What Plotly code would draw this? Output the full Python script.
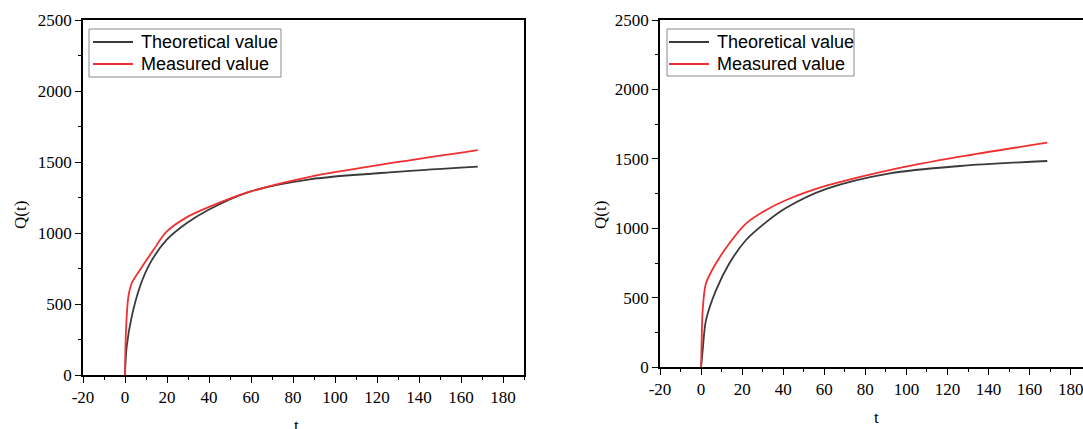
import plotly.graph_objects as go

# Left panel data
left_meas_t = [0, 0.5, 1.6, 3.2, 7.1, 13.5, 19.8, 29.3, 39.6, 59.5, 88, 131, 168]
left_meas_q = [0, 320, 551, 646, 739, 880, 1009, 1110, 1181, 1291, 1396, 1502, 1584]
left_theo_t = [0, 0.8, 3.2, 7.1, 11.9, 19.8, 29.3, 39.6, 59.5, 88, 131, 168]
left_theo_q = [0, 199, 411, 622, 786, 951, 1068, 1162, 1291, 1378, 1432, 1467]

# Right panel data
right_meas_t = [0, 0.3, 0.8, 2.4, 7.3, 13.8, 22, 31.7, 41.5, 61, 91.9, 126, 168.6]
right_meas_q = [0, 200, 412, 605, 749, 893, 1036, 1132, 1204, 1307, 1420, 1516, 1617]
right_theo_t = [0, 0.8, 2.4, 7.3, 13.8, 22, 31.7, 41.5, 61, 91.9, 126, 168.6]
right_theo_q = [0, 125, 340, 556, 749, 918, 1045, 1148, 1284, 1396, 1449, 1485]

series_names = ["Theoretical value", "Measured value"]
x_ticks = [-20, 0, 20, 40, 60, 80, 100, 120, 140, 160, 180]
y_ticks = [0, 500, 1000, 1500, 2000, 2500]

W, H = 1083, 429
BLACK = "#3a3a3a"
RED = "#f03030"
SERIF = "Liberation Serif, Times New Roman, serif"
SANS = "Liberation Sans, Arial, sans-serif"

fig = go.Figure()
for t, q, col, name, xa, ya in [
    (left_theo_t, left_theo_q, BLACK, series_names[0], "x", "y"),
    (left_meas_t, left_meas_q, RED, series_names[1], "x", "y"),
    (right_theo_t, right_theo_q, BLACK, series_names[0], "x2", "y2"),
    (right_meas_t, right_meas_q, RED, series_names[1], "x2", "y2"),
]:
    fig.add_trace(go.Scatter(x=t, y=q, mode="lines", name=name, showlegend=False,
                             line=dict(color=col, width=1.8, shape="spline", smoothing=0.9),
                             xaxis=xa, yaxis=ya))

tickfont = dict(family=SERIF, size=17, color="black")

def xax(domain, anchor, rng):
    return dict(domain=domain, anchor=anchor, range=rng, tickvals=x_ticks,
                ticktext=[str(v) for v in x_ticks], automargin=False,
                ticklabeloverflow="allow",
                showline=True, linecolor="black", linewidth=1.5, mirror=True,
                ticks="outside", ticklen=6, tickwidth=1.3, tickcolor="black",
                minor=dict(dtick=10, tick0=0, ticks="outside", ticklen=3, tickcolor="black", tickwidth=1),
                showgrid=False, zeroline=False, tickfont=tickfont)

def yax(domain, anchor, mirror):
    return dict(domain=domain, anchor=anchor, range=[0, 2500], tickvals=y_ticks,
                ticktext=[str(v) for v in y_ticks], automargin=False,
                ticklabeloverflow="allow",
                showline=True, linecolor="black", linewidth=1.5, mirror=mirror,
                ticks="outside", ticklen=6, tickwidth=1.3, tickcolor="black",
                minor=dict(dtick=250, tick0=0, ticks="outside", ticklen=3, tickcolor="black", tickwidth=1),
                showgrid=False, zeroline=False, tickfont=tickfont)

ly0, ly1 = (H - 375) / H, (H - 20) / H
ry0, ry1 = (H - 367.3) / H, (H - 20) / H

def px(x):
    return x / W

def py(y):
    return (H - y) / H

shapes = []
annotations = []

# Manual legends (box, line samples, labels)
for (bx0, bx1, by0, by1, lx0, lx1, tx) in [(89, 281, 29, 77, 93, 133, 139),
                                            (667, 854, 29, 76, 669, 709, 715)]:
    shapes.append(dict(type="rect", xref="paper", yref="paper", x0=px(bx0), x1=px(bx1),
                       y0=py(by1), y1=py(by0), line=dict(color="#8a8a8a", width=1)))
    for row_y, col, name in [(42, BLACK, series_names[0]), (64, RED, series_names[1])]:
        shapes.append(dict(type="line", xref="paper", yref="paper", x0=px(lx0), x1=px(lx1),
                           y0=py(row_y), y1=py(row_y), line=dict(color=col, width=1.8)))
        annotations.append(dict(text=name, x=px(tx), y=py(row_y), xref="paper", yref="paper",
                                xanchor="left", yanchor="middle", showarrow=False,
                                font=dict(family=SANS, size=18, color="black")))

titlefont = dict(family=SERIF, size=17, color="black")
annotations += [
    dict(text="Q(t)", x=px(20), y=py(215), xref="paper", yref="paper", xanchor="center",
         yanchor="middle", textangle=-90, showarrow=False, font=titlefont),
    dict(text="Q(t)", x=px(600), y=py(215), xref="paper", yref="paper", xanchor="center",
         yanchor="middle", textangle=-90, showarrow=False, font=titlefont),
    dict(text="t", x=px(296), y=py(425), xref="paper", yref="paper", xanchor="center",
         yanchor="middle", showarrow=False, font=titlefont),
    dict(text="t", x=px(876), y=py(417), xref="paper", yref="paper", xanchor="center",
         yanchor="middle", showarrow=False, font=titlefont),
]

fig.update_layout(
    width=W, height=H, margin=dict(l=0, r=0, t=0, b=0, autoexpand=False),
    paper_bgcolor="white", plot_bgcolor="white",
    xaxis=xax([83 / W, 524 / W], "y", [-20, 190]),
    yaxis=yax([ly0, ly1], "x", True),
    xaxis2=xax([660 / W, 1.0], "y2", [-20, 186]),
    yaxis2=yax([ry0, ry1], "x2", False),
    showlegend=False,
    shapes=shapes,
    annotations=annotations,
)

fig.write_html("out.html")
